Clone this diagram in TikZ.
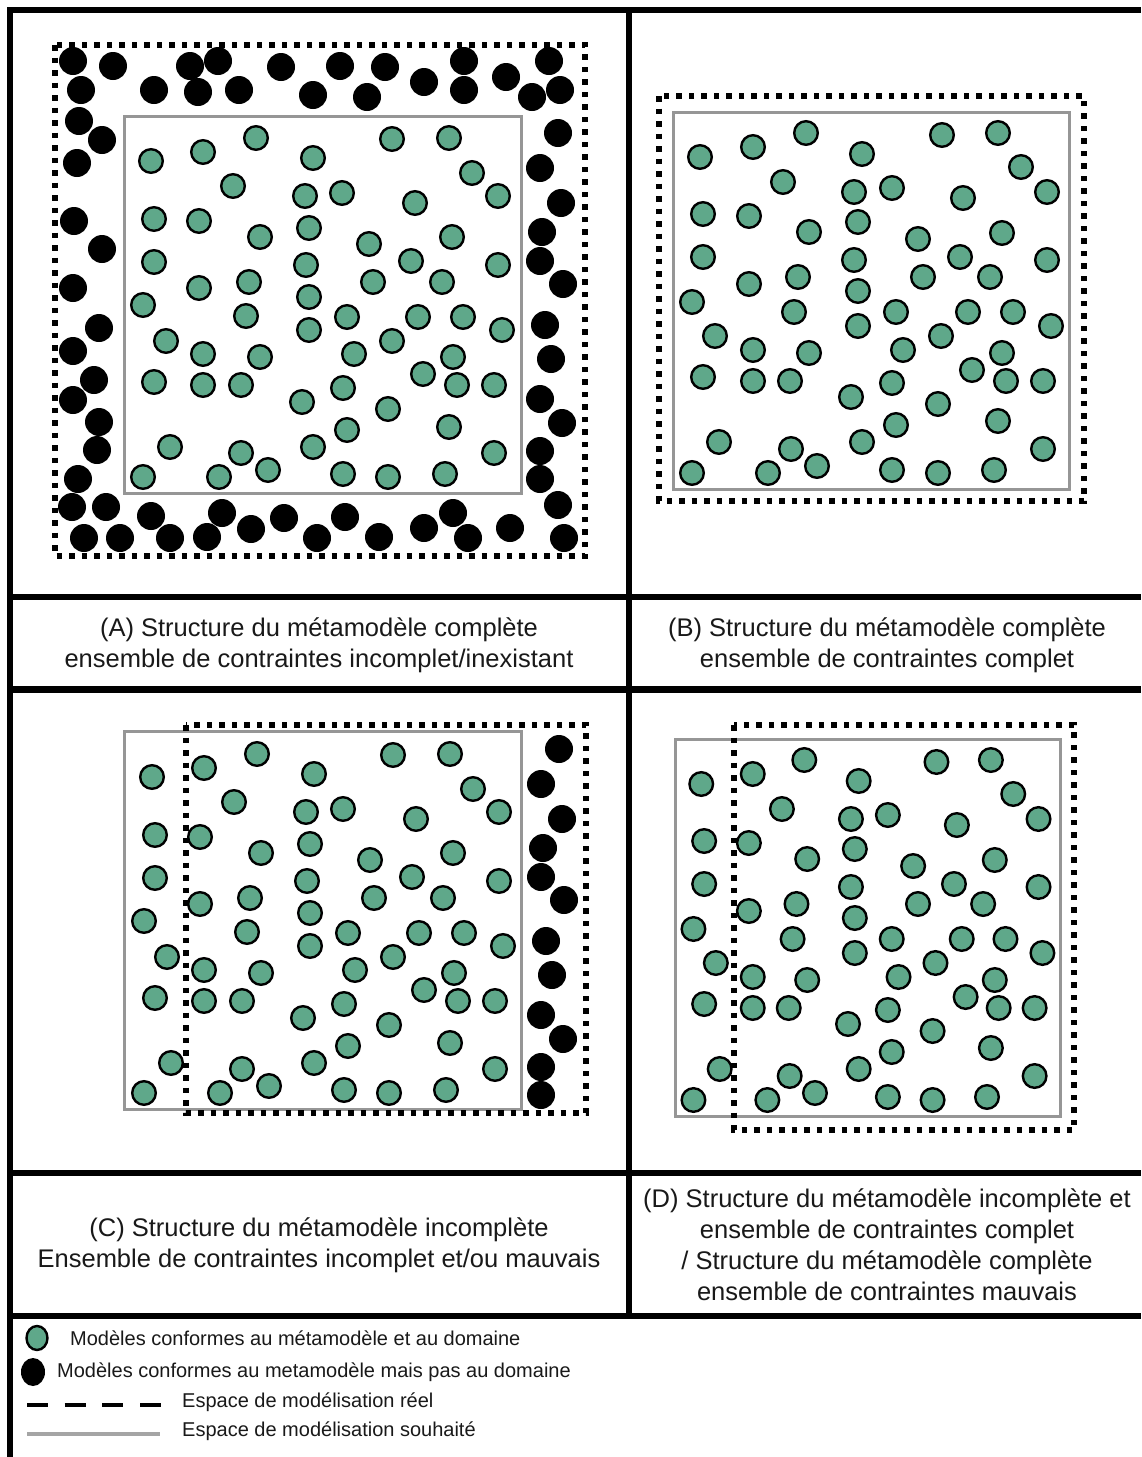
\documentclass[tikz,border=0pt]{standalone}
\usepackage{fontspec}
\setmainfont{Liberation Sans}
\definecolor{vert}{RGB}{95,168,138}
\definecolor{gris}{RGB}{150,150,150}
\definecolor{gristrait}{RGB}{165,165,165}
\definecolor{texte}{RGB}{25,25,25}
\def\Agreen{151/161,203/152,256/138,313/158,392/139,449/138,233/186,305/196,342/193,472/173,498/196,415/203,154/219,199/221,260/237,309/228,369/244,452/237,154/262,306/265,411/261,498/265,249/282,199/288,373/282,442/282,143/305,246/316,309/297,347/317,418/317,463/317,502/330,309/330,166/341,203/354,260/357,354/354,392/341,453/357,154/382,203/385,241/385,302/402,343/388,423/374,457/385,494/385,388/409,170/447,241/453,268/470,313/447,347/430,449/427,494/453,143/477,219/477,343/474,388/477,445/474}
\def\Ablack{73/61,113/66,190/66,218/61,281/67,340/66,385/67,464/61,549/61,81/90,154/90,198/92,239/90,313/95,367/97,424/82,464/90,506/77,532/97,560/90,79/121,102/140,77/163,74/221,102/249,73/288,99/328,73/351,94/380,73/400,99/422,97/450,78/479,72/507,106/507,151/516,222/513,284/518,345/517,424/528,453/513,510/528,84/538,120/538,170/538,207/537,251/529,317/538,379/537,468/538,564/538,558/505}
\def\Aright{558/133,540/168,561/203,542/232,540/261,563/284,545/325,551/359,540/399,562/423,540/451,540/479}
\def\Bgreen{700/157,753/147,806/133,862/154,942/135,998/133,783/182,854/192,892/188,963/198,1021/167,1047/192,703/214,749/216,858/222,809/232,918/239,1002/233,703/257,854/260,960/257,1047/260,749/284,798/277,923/277,990/277,858/291,692/302,794/312,896/312,968/312,1013/312,1051/326,858/326,715/336,753/350,809/353,903/350,941/336,1002/353,703/377,753/381,790/381,892/383,851/397,938/404,972/370,1006/381,1043/381,998/421,896/425,719/442,791/449,862/442,1043/449,692/473,768/473,817/466,892/470,938/473,994/470}
\begin{document}
\begin{tikzpicture}[x=1pt,y=-1pt,
  green dot/.style={fill=vert, draw=black, line width=2.4pt},
  black dot/.style={fill=black},
  real space/.style={draw=black, line width=5.5pt, dash pattern=on 5.5pt off 7pt},
  wanted space/.style={draw=gris, line width=3pt},
  frame/.style={draw=black, line width=6pt},
  caption/.style={align=center, text=texte, font=\fontsize{25.5}{31}\selectfont},
  legend/.style={anchor=west, text=texte, font=\fontsize{20}{22}\selectfont, inner sep=0pt}
]
\useasboundingbox[fill=white] (0,0) rectangle (1141,1457);

% ---------- panel A ----------
\draw[real space] (55,45) rectangle (585,556);
\draw[wanted space] (124,116) rectangle (521,493);
\foreach \x/\y in \Ablack { \fill[black dot] (\x,\y) circle[radius=14pt]; }
\foreach \x/\y in \Aright { \fill[black dot] (\x,\y) circle[radius=14pt]; }
\foreach \x/\y in \Agreen { \draw[green dot] (\x,\y) circle[radius=11.8pt]; }

% ---------- panel B ----------
\draw[real space] (659,96) rectangle (1084,501);
\draw[wanted space] (673,112) rectangle (1069,489);
\foreach \x/\y in \Bgreen { \draw[green dot] (\x,\y) circle[radius=11.8pt]; }

% ---------- panel C ----------
\draw[wanted space] (124,731) rectangle (521,1109);
\draw[real space] (186,725) rectangle (586,1113);
\foreach \x/\y in \Aright { \fill[black dot] ({\x+1},{\y+616}) circle[radius=14pt]; }
\foreach \x/\y in \Agreen { \draw[green dot] ({\x+1},{\y+616}) circle[radius=11.8pt]; }

% ---------- panel D ----------
\draw[wanted space] (675,739) rectangle (1060,1116);
\draw[real space] (734,725) rectangle (1074,1130);
\foreach \x/\y in \Bgreen { \draw[green dot] ({675+(\x-673)*0.972},{\y+627}) circle[radius=11.8pt]; }

% ---------- frame ----------
\draw[frame] (7,10) -- (1141,10);
\draw[frame] (10,7) -- (10,1457);
\draw[frame] (629,10) -- (629,1316);
\draw[frame] (10,597) -- (1141,597);
\draw[frame, line width=7pt] (10,689) -- (1141,689);
\draw[frame] (10,1173) -- (1141,1173);
\draw[frame] (10,1316) -- (1141,1316);

% ---------- captions ----------
\node[caption] (capA) at (319,645) {(A) Structure du métamodèle complète\\ensemble de contraintes incomplet/inexistant};
\node[caption] (capB) at (887,645) {(B) Structure du métamodèle complète\\ensemble de contraintes complet};
\node[caption] (capC) at (319,1245) {(C) Structure du métamodèle incomplète\\Ensemble de contraintes incomplet et/ou mauvais};
\node[caption] (capD) at (887,1245) {(D) Structure du métamodèle incomplète et\\ensemble de contraintes complet\\/ Structure du métamodèle complète\\ensemble de contraintes mauvais};

% ---------- legend ----------
\draw[green dot] (37,1338) ellipse[x radius=10.5pt, y radius=12pt];
\fill[black dot] (33,1372) ellipse[x radius=12pt, y radius=14pt];
\draw[black, line width=4.5pt, dash pattern=on 21pt off 16.7pt] (27,1405) -- (161,1405);
\draw[gristrait, line width=4pt] (27,1434) -- (160,1434);
\node[legend] (l1) at (70,1338) {Modèles conformes au métamodèle et au domaine};
\node[legend] (l2) at (57,1372) {Modèles conformes au metamodèle mais pas au domaine};
\node[legend] (l3) at (182,1402) {Espace de modélisation réel};
\node[legend] (l4) at (182,1431) {Espace de modélisation souhaité};
\end{tikzpicture}
\end{document}
